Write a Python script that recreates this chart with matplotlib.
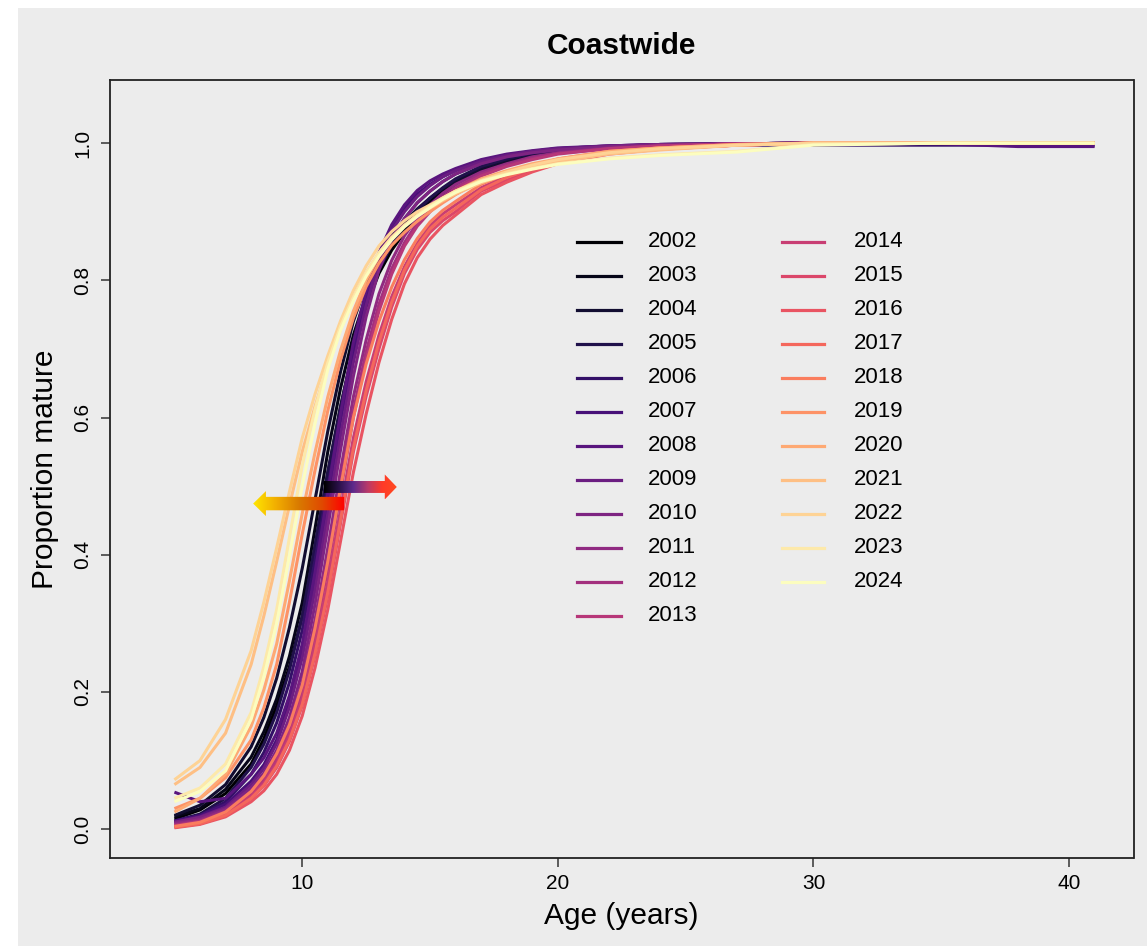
import numpy as np
import matplotlib
matplotlib.use("Agg")
import matplotlib.pyplot as plt
from matplotlib.patches import Polygon, Rectangle
from matplotlib.lines import Line2D
from matplotlib.colors import LinearSegmentedColormap

plt.rcParams["font.family"] = ["Liberation Sans", "DejaVu Sans"]

# ---- data: proportion mature by age, one curve per survey year ----
ages = [5, 6, 7, 8, 8.5, 9, 9.5, 10, 10.5, 11, 11.5, 12, 12.5, 13, 13.5, 14, 14.5, 15, 15.5, 16,
        17, 18, 19, 20, 22, 24, 27, 30, 35, 38, 41]
years = list(range(2002, 2025))

p2002 = [.015, .028, .052, .095, .132, .18, .237, .31, .412, .52, .616, .70, .762, .81, .844, .87, .892, .91, .926, .94, .96, .972, .981, .987, .994, .997, .999, 1, 1, 1, 1]
p2003 = [.018, .03, .058, .105, .142, .19, .252, .33, .438, .55, .643, .72, .777, .82, .851, .875, .897, .915, .93, .943, .962, .974, .982, .988, .994, .997, .999, 1, 1, 1, 1]
p2004 = [.02, .035, .065, .12, .163, .22, .294, .38, .48, .58, .667, .74, .794, .835, .864, .885, .904, .92, .934, .945, .963, .975, .983, .989, .995, .998, .999, 1, 1, 1, 1]
p2005 = [.012, .022, .045, .09, .124, .17, .232, .31, .413, .52, .616, .70, .765, .815, .852, .88, .902, .92, .935, .948, .966, .977, .985, .99, .995, .998, .999, 1, 1, 1, 1]
p2006 = [.01, .02, .04, .08, .112, .155, .214, .29, .392, .50, .60, .69, .763, .82, .861, .89, .913, .93, .944, .955, .97, .98, .986, .99, .994, .996, .997, .997, .997, .997, .997]
p2007 = [.012, .02, .036, .07, .094, .13, .185, .26, .364, .48, .595, .70, .777, .835, .876, .905, .926, .94, .951, .96, .974, .982, .988, .992, .996, .998, .999, 1, 1, 1, 1]
p2008 = [.054, .04, .045, .08, .104, .14, .195, .27, .374, .49, .606, .71, .784, .84, .881, .91, .931, .945, .955, .963, .976, .984, .989, .993, .996, .998, .999, 1, .999, .995, .995]
p2009 = [.01, .018, .032, .065, .089, .125, .178, .25, .349, .46, .574, .68, .764, .83, .872, .90, .922, .938, .951, .96, .973, .982, .988, .992, .996, .998, .999, 1, 1, 1, 1]
p2010 = [.01, .017, .03, .06, .082, .115, .163, .23, .328, .44, .553, .66, .747, .815, .86, .89, .913, .93, .944, .955, .97, .98, .986, .99, .995, .998, .999, 1, 1, 1, 1]
p2011 = [.008, .014, .028, .055, .078, .11, .154, .215, .305, .41, .523, .63, .713, .78, .829, .865, .891, .91, .927, .94, .958, .97, .98, .986, .993, .996, .999, 1, 1, 1, 1]
p2012 = [.006, .012, .026, .052, .074, .105, .147, .205, .29, .39, .502, .61, .696, .765, .817, .855, .884, .905, .922, .935, .955, .968, .978, .985, .992, .996, .999, 1, 1, 1, 1]
p2013 = [.005, .011, .024, .05, .07, .10, .142, .20, .283, .38, .492, .60, .685, .755, .809, .85, .879, .90, .918, .932, .952, .966, .976, .984, .992, .996, .999, 1, 1, 1, 1]
p2014 = [.004, .009, .022, .048, .067, .095, .135, .19, .268, .36, .466, .57, .652, .72, .776, .82, .854, .88, .897, .91, .935, .952, .965, .975, .987, .993, .997, 1, 1, 1, 1]
p2015 = [.003, .008, .02, .045, .063, .09, .128, .18, .253, .34, .446, .55, .631, .70, .761, .81, .845, .87, .887, .90, .93, .946, .96, .972, .985, .992, .997, 1, 1, 1, 1]
p2016 = [.002, .007, .018, .04, .056, .08, .115, .165, .235, .32, .42, .52, .605, .68, .743, .795, .833, .86, .88, .895, .925, .943, .958, .97, .984, .991, .997, 1, 1, 1, 1]
p2017 = [.003, .008, .02, .045, .064, .092, .13, .182, .256, .345, .451, .555, .639, .71, .768, .815, .85, .875, .892, .905, .932, .95, .963, .974, .986, .992, .997, 1, 1, 1, 1]
p2018 = [.004, .01, .025, .055, .078, .11, .152, .21, .293, .39, .498, .60, .678, .74, .79, .83, .861, .885, .902, .915, .94, .955, .967, .977, .988, .993, .997, 1, 1, 1, 1]
p2019 = [.03, .045, .075, .13, .177, .24, .331, .43, .523, .61, .684, .745, .791, .825, .851, .87, .886, .90, .913, .925, .945, .958, .968, .976, .987, .993, .998, 1, 1, 1, 1]
p2020 = [.025, .045, .08, .15, .203, .27, .362, .46, .549, .63, .698, .755, .80, .835, .861, .88, .895, .908, .92, .93, .948, .96, .97, .977, .988, .993, .998, 1, 1, 1, 1]
p2021 = [.065, .09, .14, .24, .311, .39, .472, .55, .616, .675, .729, .775, .811, .84, .863, .88, .894, .905, .916, .926, .942, .955, .965, .973, .984, .99, .997, 1, 1, 1, 1]
p2022 = [.072, .10, .16, .26, .331, .41, .492, .57, .634, .69, .741, .785, .821, .85, .871, .887, .90, .91, .92, .93, .946, .958, .968, .976, .986, .992, .997, 1, 1, 1, 1]
p2023 = [.045, .06, .095, .17, .237, .32, .425, .53, .612, .68, .733, .775, .811, .84, .862, .88, .895, .908, .92, .93, .945, .955, .963, .97, .978, .983, .988, .998, 1, 1, 1]
p2024 = [.04, .055, .085, .16, .222, .30, .398, .50, .591, .67, .727, .77, .806, .835, .859, .878, .893, .906, .918, .928, .944, .954, .962, .969, .977, .982, .987, .997, 1, 1, 1]

curves = [p2002, p2003, p2004, p2005, p2006, p2007, p2008, p2009, p2010, p2011, p2012,
          p2013, p2014, p2015, p2016, p2017, p2018, p2019, p2020, p2021, p2022, p2023, p2024]

W, H = 1147, 946
BG = "#ECECEC"


def fx(px):
    return px / W


def fy(py):
    return 1 - py / H


fig = plt.figure(figsize=(W / 100, H / 100), dpi=100, facecolor="white")
fig.patches.append(Rectangle((fx(18), 0), 1 - fx(18), fy(8), transform=fig.transFigure,
                             facecolor=BG, edgecolor="none", zorder=-10))

ax = fig.add_axes([fx(110), fy(858), (1133.5 - 110) / W, (858 - 80) / H])
ax.set_facecolor(BG)

cols = plt.get_cmap("magma")(np.linspace(0, 1, len(years)))

for yr, vals, c in zip(years, curves, cols):
    ax.plot(ages, vals, color=c, lw=2.2, solid_capstyle="butt", solid_joinstyle="round", zorder=2)

ax.set_xlim(2.48, 42.52)
ax.set_ylim(-0.042, 1.092)
ax.set_xticks([10, 20, 30, 40])
ax.set_yticks([0, 0.2, 0.4, 0.6, 0.8, 1.0])
ax.set_yticklabels(["0.0", "0.2", "0.4", "0.6", "0.8", "1.0"])
ax.tick_params(axis="both", length=6.7, width=1.1, color="#333333", labelsize=15, pad=5)
ax.tick_params(axis="y", labelrotation=90, pad=6)
for lab in ax.get_yticklabels():
    lab.set_va("center")
for s in ax.spines.values():
    s.set_linewidth(1.3)
    s.set_color("#222222")

ax.set_xlabel("Age (years)", fontsize=21.5)
ax.xaxis.set_label_coords(0.5, (858 - 916) / 778)
ax.xaxis.label.set_va("center")
ax.set_ylabel("Proportion mature", fontsize=21.5)
ax.yaxis.set_label_coords((45 - 110) / 1023.5, 0.5)
ax.yaxis.label.set_va("center")

fig.text(fx(621), fy(46), "Coastwide", ha="center", va="center",
         fontsize=21.5, fontweight="bold")


# ---- gradient arrows marking the shift in maturity ----
def grad_arrow(x_tail, x_tip, y, colors, body_h, head_h, head_len):
    d = 1 if x_tip > x_tail else -1
    xb = x_tip - d * head_len
    verts = [(x_tail, y - body_h), (xb, y - body_h), (xb, y - head_h), (x_tip, y),
             (xb, y + head_h), (xb, y + body_h), (x_tail, y + body_h)]
    poly = Polygon(verts, closed=True, facecolor="none", edgecolor="none", zorder=5)
    ax.add_patch(poly)
    cmap = LinearSegmentedColormap.from_list("arr", colors)
    g = np.linspace(0, 1, 256).reshape(1, -1)
    if d < 0:
        g = g[:, ::-1]
    im = ax.imshow(g, cmap=cmap, aspect="auto", interpolation="bilinear",
                   extent=(min(x_tail, x_tip), max(x_tail, x_tip), y - head_h, y + head_h),
                   zorder=5)
    im.set_clip_path(poly)


grad_arrow(11.64, 8.08, 0.4746, ["#FF0000", "#E04A00", "#D97A00", "#F2AE00", "#FFE600"],
           0.0098, 0.0182, 0.50)
grad_arrow(10.85, 13.70, 0.4988, ["#000000", "#2A1048", "#5E2A8C", "#B83A6A", "#FF3A28", "#FF4A20"],
           0.0087, 0.0182, 0.47)

ax.set_xlim(2.48, 42.52)
ax.set_ylim(-0.042, 1.092)

# ---- legend, two columns ----
for i, (yr, c) in enumerate(zip(years, cols)):
    col, row = divmod(i, 12)
    ypx = 241.7 + 34 * row
    x0, x1, xt = (576.7, 620.7, 648) if col == 0 else (781.7, 824, 854)
    fig.add_artist(Line2D([fx(x0), fx(x1)], [fy(ypx), fy(ypx)], color=c, lw=2.3,
                          transform=fig.transFigure, zorder=6))
    fig.text(fx(xt), fy(ypx), str(yr), ha="left", va="center", fontsize=16, zorder=6)

fig.savefig("out.png", dpi=100, facecolor="white")
